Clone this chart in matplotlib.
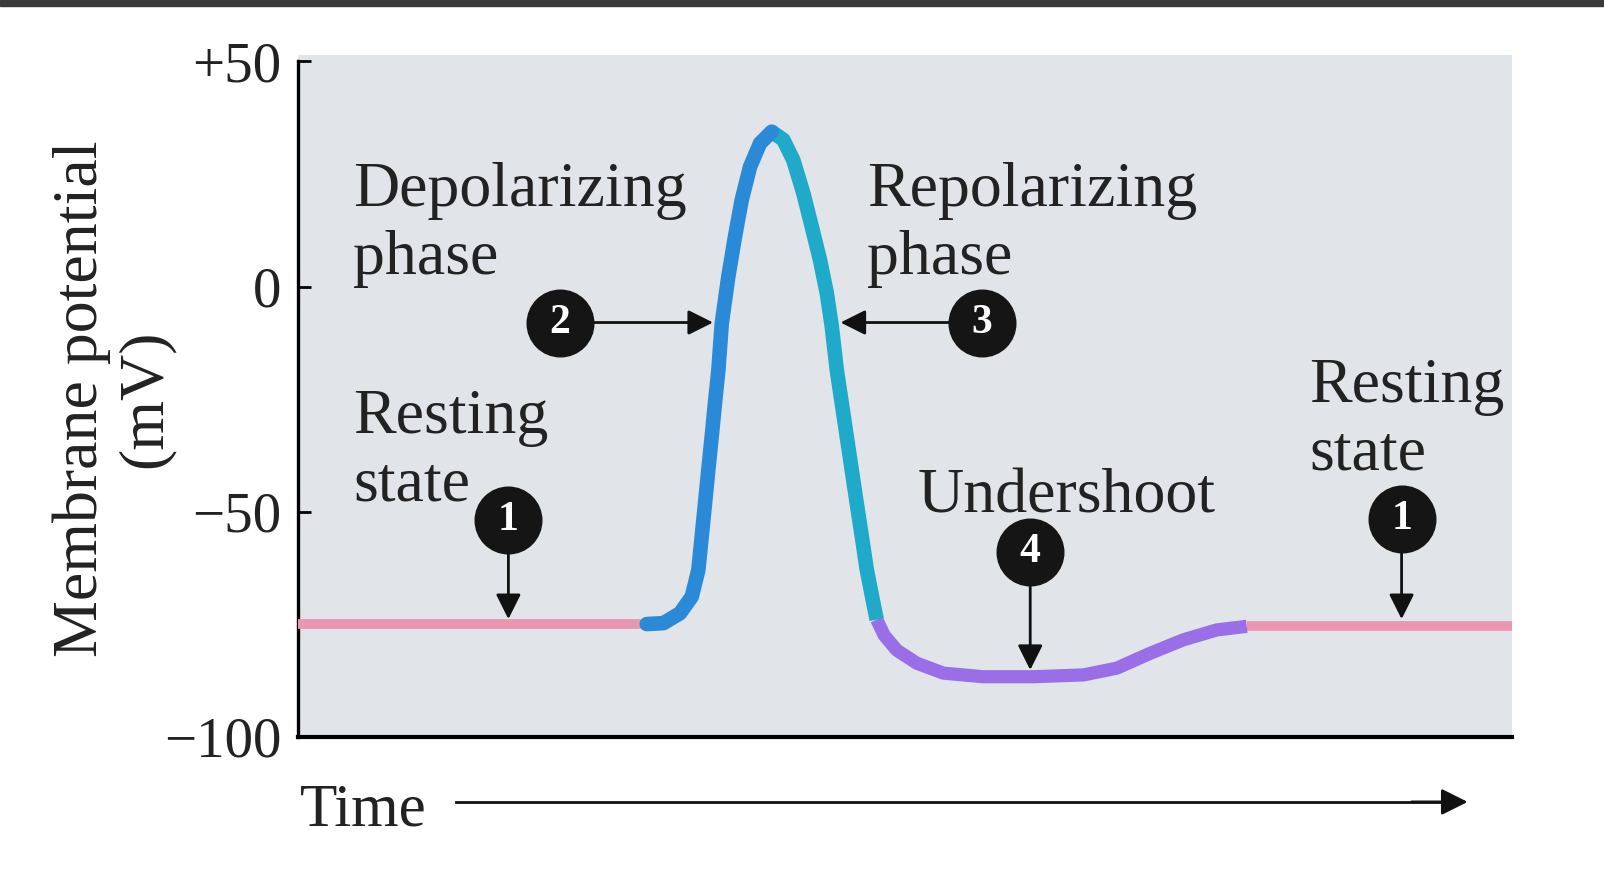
import matplotlib.pyplot as plt
from matplotlib.patches import Rectangle

# time (arbitrary units) and membrane potential (mV)
rest1_t = [0.0, 2.874]
rest1_v = [-75, -75]

depol_t = [2.874, 3.011, 3.148, 3.245, 3.299, 3.327, 3.354, 3.381, 3.409, 3.436,
           3.464, 3.492, 3.546, 3.601, 3.656, 3.725, 3.807, 3.903]
depol_v = [-75, -74.8, -72.6, -68.9, -63.0, -55.5, -48.2, -40.8, -33.4, -25.9,
           -18.6, -8.2, 2.2, 11.1, 19.2, 26.6, 31.8, 34.4]

repol_t = [3.903, 3.999, 4.081, 4.164, 4.233, 4.301, 4.357, 4.398, 4.439, 4.480,
           4.521, 4.562, 4.603, 4.645, 4.686, 4.740, 4.768]
repol_v = [34.4, 32.6, 28.1, 20.7, 13.3, 5.9, -1.5, -8.9, -18.5, -25.9,
           -33.3, -40.7, -48.1, -55.5, -62.9, -70.3, -74.0]

under_t = [4.768, 4.830, 4.933, 5.098, 5.317, 5.646, 6.058, 6.470, 6.745, 7.019,
           7.293, 7.568, 7.815]
under_v = [-74.0, -77.5, -80.8, -83.7, -85.9, -86.7, -86.7, -86.3, -84.8, -81.5,
           -78.5, -76.3, -75.5]

rest2_t = [7.815, 10.0]
rest2_v = [-75.5, -75.5]

yticks = [50, 0, -50, -100]
ytick_labels = ['+50', '0', '\u221250', '\u2212100']

# numbered markers: (label, circle x, circle y, arrow target x, arrow target y)
markers = [
    ('1', 1.735, -51.8, 1.735, -73.9),
    ('2', 2.157, -8.0, 3.42, -8.0),
    ('3', 5.636, -8.0, 4.47, -8.0),
    ('4', 6.032, -59.0, 6.032, -85.2),
    ('1', 9.09, -51.6, 9.09, -73.9),
]

# text labels, one per line: (text, x, top y)
labels = [
    ('Depolarizing', 0.455, 27.6),
    ('phase', 0.455, 12.6),
    ('Repolarizing', 4.69, 27.6),
    ('phase', 4.69, 12.6),
    ('Resting', 0.455, -22.8),
    ('state', 0.455, -37.8),
    ('Undershoot', 5.105, -40.4),
    ('Resting', 8.33, -15.8),
    ('state', 8.33, -30.8),
]

serif = 'Liberation Serif'

fig = plt.figure(figsize=(16.04, 8.91), dpi=100)
fig.patch.set_facecolor('white')
fig.add_artist(Rectangle((0, 0.993), 1, 0.007, transform=fig.transFigure,
                         color='#3a3a3a', zorder=0))

ax = fig.add_axes([0.1856, 0.1733, 0.7571, 0.7653])
ax.set_facecolor('#e1e4e9')
ax.set_xlim(0, 10)
ax.set_ylim(-100, 51.5)

ax.plot(rest1_t, rest1_v, color='#e996b0', lw=7, solid_capstyle='butt', zorder=3)
ax.plot(rest2_t, rest2_v, color='#e996b0', lw=7, solid_capstyle='butt', zorder=3)
ax.plot(under_t, under_v, color='#9a6ee6', lw=9.5, solid_capstyle='butt',
        solid_joinstyle='round', zorder=3)
ax.plot(repol_t, repol_v, color='#1eaac8', lw=10.5, solid_capstyle='butt',
        solid_joinstyle='round', zorder=4)
ax.plot(depol_t, depol_v, color='#2a8ad8', lw=10.5, solid_capstyle='round',
        solid_joinstyle='round', zorder=4)

for num, cx, cy, tx, ty in markers:
    ax.annotate('', xy=(tx, ty), xytext=(cx, cy),
                arrowprops=dict(arrowstyle='-|>', color='#111111', lw=2,
                                mutation_scale=38, shrinkA=24, shrinkB=0),
                zorder=5)
    ax.scatter([cx], [cy], s=2300, color='#151515', zorder=6)
    ax.text(cx, cy, num, color='white', fontsize=30, fontweight='bold',
            family=serif, ha='center', va='center', zorder=7)

for txt, x, y in labels:
    ax.text(x, y, txt, fontsize=46, family=serif, color='#222222',
            ha='left', va='top', zorder=5)

ax.spines['top'].set_visible(False)
ax.spines['right'].set_visible(False)
ax.spines['left'].set_linewidth(2.4)
ax.spines['bottom'].set_linewidth(3)
ax.spines['left'].set_bounds(-100, 50)
ax.set_xticks([])
ax.set_yticks(yticks)
ax.set_yticklabels(ytick_labels, fontsize=41, family=serif, color='#222222')
ax.tick_params(axis='y', direction='in', length=9, width=2, pad=12)

fig.text(0.071, 0.552, 'Membrane potential\n(mV)', rotation=90, fontsize=46,
         family=serif, color='#222222', ha='center', va='center',
         multialignment='center', linespacing=1.12)

fig.text(0.187, 0.09, 'Time', fontsize=44, family=serif, color='#222222',
         ha='left', va='center')
fig.add_artist(plt.Line2D([0.284, 0.9], [0.1, 0.1], transform=fig.transFigure,
                          color='#111111', lw=2))
ax.annotate('', xy=(0.915, 0.1), xytext=(0.88, 0.1), xycoords='figure fraction',
            textcoords='figure fraction',
            arrowprops=dict(arrowstyle='-|>', color='#111111', lw=2,
                            mutation_scale=40, shrinkA=0, shrinkB=0))

fig.savefig('out.png', dpi=100)
